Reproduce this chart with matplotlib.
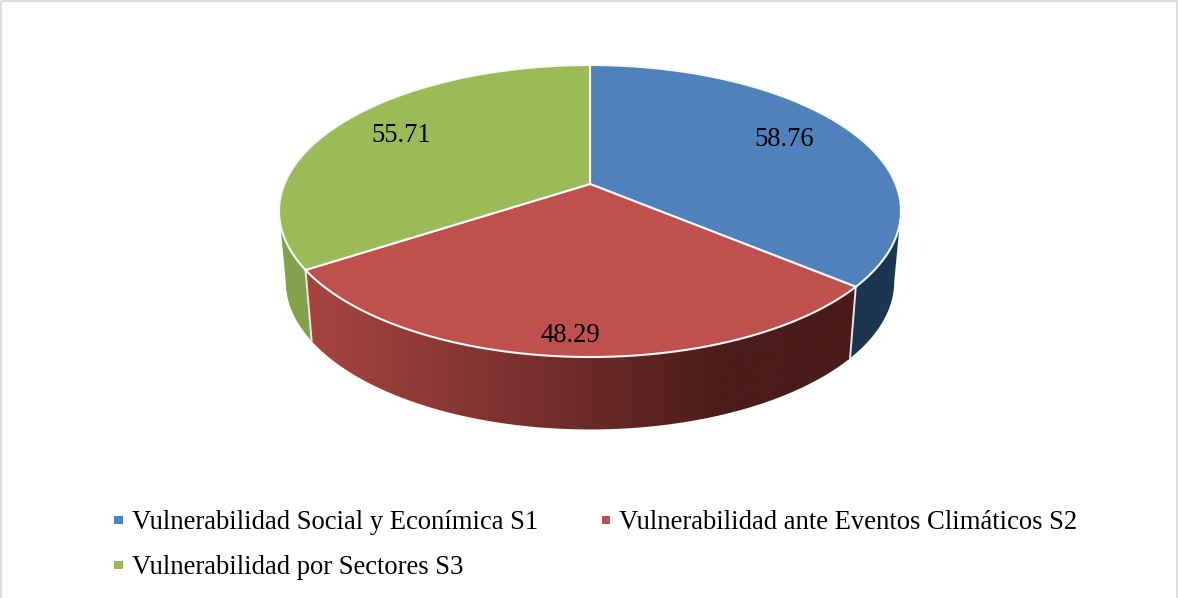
# 三维饼图 - Vulnerabilidad

import numpy as np
import matplotlib
matplotlib.use('Agg')
import matplotlib.pyplot as plt
from matplotlib.colors import LinearSegmentedColormap
from matplotlib.patches import Polygon, Rectangle

categories = ['Vulnerabilidad Social y Econímica S1',
              'Vulnerabilidad ante Eventos Climáticos S2',
              'Vulnerabilidad por Sectores S3']
values = [58.76, 48.29, 55.71]
value_labels = ['58.76', '48.29', '55.71']
top_colors = ['#4F81BD', '#C0504D', '#9BBB59']

plt.rcParams['font.family'] = ['Liberation Serif', 'DejaVu Serif']

fig = plt.figure(figsize=(11.78, 5.98), dpi=100)
ax = fig.add_axes([0, 0, 1, 1])
ax.set_xlim(0, 1178)
ax.set_ylim(598, 0)
ax.axis('off')

# 外框
ax.add_patch(Rectangle((1, 1), 1176, 640, fill=False, edgecolor='#DEDEDE', lw=1.5))

persp = 0.185


# 透视投影：单位圆 -> 屏幕
def top_rim(t):
    X, Y = np.sin(t), np.cos(t)
    d = 1 + persp * Y
    return 590 + 305.6 * X / d, 184 - 141 * Y / d


def bottom_rim(t):
    X, Y = np.sin(t), np.cos(t)
    d = 1 + persp * Y
    return 590 + 299 * X / d, 254 - 143 * Y / d


edges = np.concatenate([[0], np.cumsum(values)]) / np.sum(values) * 2 * np.pi
# 椭圆左右最外处对应的角度
t_out = np.arccos(-persp)


def side_poly(t0, t1):
    t = np.linspace(t0, t1, 120)
    x0, y0 = top_rim(t)
    x1, y1 = bottom_rim(t[::-1])
    return np.column_stack([np.r_[x0, x1], np.r_[y0, y1]])


# 侧面
blue_side = Polygon(side_poly(t_out, edges[1]), closed=True, facecolor='#1C3550', edgecolor='none', zorder=2)
ax.add_patch(blue_side)
green_side = Polygon(side_poly(edges[2], 2 * np.pi - t_out), closed=True, facecolor='#83A04A', edgecolor='none', zorder=2)
ax.add_patch(green_side)

red_side = Polygon(side_poly(edges[1], edges[2]), closed=True, facecolor='none', edgecolor='none', zorder=3)
ax.add_patch(red_side)
red_cmap = LinearSegmentedColormap.from_list('red_side', [(0, '#A8463F'), (0.35, '#7F3330'), (0.75, '#4C1C19'), (1, '#4A1C19')])
im = ax.imshow(np.linspace(0, 1, 256).reshape(1, -1), cmap=red_cmap, extent=(304, 858, 440, 260),
               aspect='auto', zorder=3)
im.set_clip_path(red_side)
ax.set_xlim(0, 1178)
ax.set_ylim(598, 0)

# 侧面分隔线
for t in edges[1:3]:
    xa, ya = top_rim(t)
    xb, yb = bottom_rim(t)
    ax.plot([xa, xb], [ya, yb], color='#E8E8E8', lw=1.4, zorder=4)

# 顶面
for i, c in enumerate(top_colors):
    t = np.linspace(edges[i], edges[i + 1], 200)
    x, y = top_rim(t)
    pts = np.column_stack([np.r_[590, x], np.r_[184, y]])
    ax.add_patch(Polygon(pts, closed=True, facecolor=c, edgecolor='#F8F8F8', lw=1.5, joinstyle='round', zorder=5))

# 数据标签
label_pos = [(784, 140), (570, 336), (401, 136)]
for txt, (lx, ly) in zip(value_labels, label_pos):
    ax.text(lx, ly, txt, fontsize=19.2, color='black', ha='center', va='center', zorder=6)

# 图例
legend_x = [118.5, 606, 118.5]
legend_y = [520, 520, 565]
for name, c, lx, ly in zip(categories, top_colors, legend_x, legend_y):
    ax.add_patch(Rectangle((lx - 4.25, ly - 4.25), 8.5, 8.5, facecolor=c, edgecolor='none', zorder=6))
    ax.text(lx + 13, ly + 9, name, fontsize=19.2, color='black', ha='left', va='baseline', zorder=6)

fig.savefig('out.png', dpi=100)
